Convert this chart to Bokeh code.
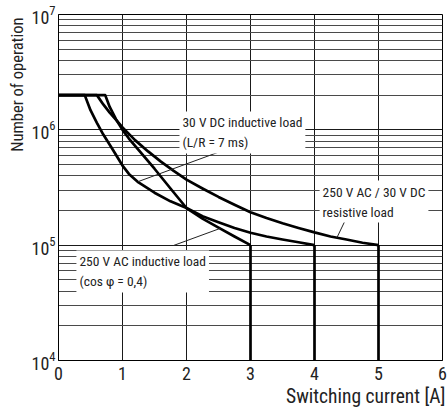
import numpy as np
from bokeh.plotting import figure
from bokeh.models import Label, Range1d, FixedTicker, Title
from bokeh.embed import file_html
from bokeh.resources import INLINE

FONT = "Roboto Condensed, DejaVu Sans Condensed, sans-serif"

# ---- data ----
x_ticks = [0, 1, 2, 3, 4, 5, 6]
y_ticks = [1e4, 1e5, 1e6, 1e7]

# 250 V AC / 30 V DC resistive load (ends at 5 A)
res_x = [0, 0.6, 0.7, 0.8, 0.9, 1.0, 1.2, 1.4, 1.6, 1.8, 2.0, 2.25, 2.5, 2.75,
         3.0, 3.25, 3.5, 3.75, 4.0, 4.25, 4.5, 4.75, 5.0]
res_y = [2.0e6, 2.0e6, 1.66e6, 1.41e6, 1.22e6, 1.05e6, 8.1e5, 6.5e5, 5.3e5, 4.4e5,
         3.7e5, 3.1e5, 2.62e5, 2.24e5, 1.93e5, 1.72e5, 1.55e5, 1.41e5, 1.29e5,
         1.19e5, 1.12e5, 1.05e5, 1.0e5]

# 250 V AC inductive load, cos phi = 0.4 (ends at 3 A)
ac_x = [0, 0.73, 0.8, 0.9, 1.0, 1.1, 1.25, 1.5, 1.75, 2.0, 2.25, 2.5, 2.75, 3.0]
ac_y = [2.0e6, 2.0e6, 1.58e6, 1.23e6, 1.0e6, 8.4e5, 6.7e5, 4.6e5, 3.1e5, 2.1e5,
        1.7e5, 1.42e5, 1.19e5, 1.0e5]

# 30 V DC inductive load, L/R = 7 ms (ends at 4 A)
dc_x = [0, 0.41, 0.5, 0.6, 0.7, 0.83, 1.0, 1.1, 1.25, 1.5, 1.75, 2.0, 2.25, 2.5,
        2.75, 3.0, 3.25, 3.5, 3.75, 4.0]
dc_y = [2.0e6, 2.0e6, 1.48e6, 1.15e6, 9.1e5, 7.0e5, 4.9e5, 4.15e5, 3.5e5, 2.85e5,
        2.4e5, 2.1e5, 1.78e5, 1.58e5, 1.41e5, 1.28e5, 1.19e5, 1.12e5, 1.06e5, 1.0e5]

# maximum switching currents (vertical drop from 1e5 down)
cut_x = [3, 4, 5]
cut_top = [1e5, 1e5, 1e5]
cut_bottom = [1e4, 1e4, 1e4]

# ---- figure ----
p = figure(width=448, height=411, y_axis_type="log",
           x_range=Range1d(0, 6), y_range=Range1d(1e4, 1e7),
           output_backend="svg", toolbar_location=None,
           min_border_left=58, min_border_right=6,
           min_border_top=14, min_border_bottom=51,
           background_fill_color="white", border_fill_color="white")

p.outline_line_color = "black"
p.outline_line_width = 1

minor = [m * 10.0 ** e for e in (4, 5, 6) for m in range(2, 10)]

p.xaxis.ticker = FixedTicker(ticks=x_ticks)
p.yaxis.ticker = FixedTicker(ticks=y_ticks)
p.xgrid.ticker = FixedTicker(ticks=x_ticks)
p.ygrid.ticker = FixedTicker(ticks=y_ticks, minor_ticks=minor)

p.xgrid.grid_line_color = "#1a1a1a"
p.xgrid.grid_line_width = 1
p.ygrid.grid_line_color = "#1a1a1a"
p.ygrid.grid_line_width = 1
p.ygrid.minor_grid_line_color = "#4a4a4a"
p.ygrid.minor_grid_line_width = 1

for ax in (p.xaxis, p.yaxis):
    ax.axis_line_color = "black"
    ax.major_tick_out = 0
    ax.major_tick_in = 0
    ax.minor_tick_out = 0
    ax.minor_tick_in = 0
    ax.major_label_text_font = FONT
    ax.major_label_text_font_size = "18px"
    ax.major_label_text_color = "#222222"
p.xaxis.major_label_standoff = 6
p.yaxis.major_label_standoff = 3

# ---- curves ----
LW = 2.7
p.line(res_x, res_y, line_color="black", line_width=LW, line_join="round")
p.line(ac_x, ac_y, line_color="black", line_width=LW, line_join="round")
p.line(dc_x, dc_y, line_color="black", line_width=LW, line_join="round")
p.segment(x0=cut_x, y0=cut_top, x1=cut_x, y1=cut_bottom,
          line_color="black", line_width=LW)

# ---- leader lines (annotation callouts) ----
leaders = [
    ((2.50, 6.4e5), (1.24, 3.55e5)),  # 30 V DC inductive
    ((4.68, 2.8e5), (4.35, 1.16e5)),  # resistive
    ((1.79, 9.9e4), (2.53, 1.4e5)),   # 250 V AC inductive
]
p.segment(x0=[a[0][0] for a in leaders], y0=[a[0][1] for a in leaders],
          x1=[a[1][0] for a in leaders], y1=[a[1][1] for a in leaders],
          line_color="#222222", line_width=1)

# ---- curve labels with white boxes ----
def box_label(x, y, txt):
    p.add_layout(Label(x=x, y=y, text=txt, text_font=FONT, text_font_size="13.5px",
                       text_color="#222222", text_align="left", text_baseline="top",
                       text_line_height=1.25, background_fill_color="white",
                       padding=3))

box_label(1.89, 1.445e6, "30 V DC inductive load\n(L/R = 7 ms)")
box_label(4.08, 3.63e5, "250 V AC / 30 V DC\nresistive load")
box_label(0.28, 9.0e4, "250 V AC inductive load\n(cos \u03c6 = 0,4)")

# ---- axis titles ----
p.add_layout(Title(text="Switching current [A]", align="right", text_font=FONT,
                   text_font_size="19.5px", text_font_style="normal",
                   text_color="#222222", standoff=0, offset=-3), "below")
p.add_layout(Title(text="Number of operation", align="right", text_font=FONT,
                   text_font_size="16.5px", text_font_style="normal",
                   text_color="#222222", standoff=3, offset=3), "left")

open("out.html", "w").write(file_html(p, INLINE))
